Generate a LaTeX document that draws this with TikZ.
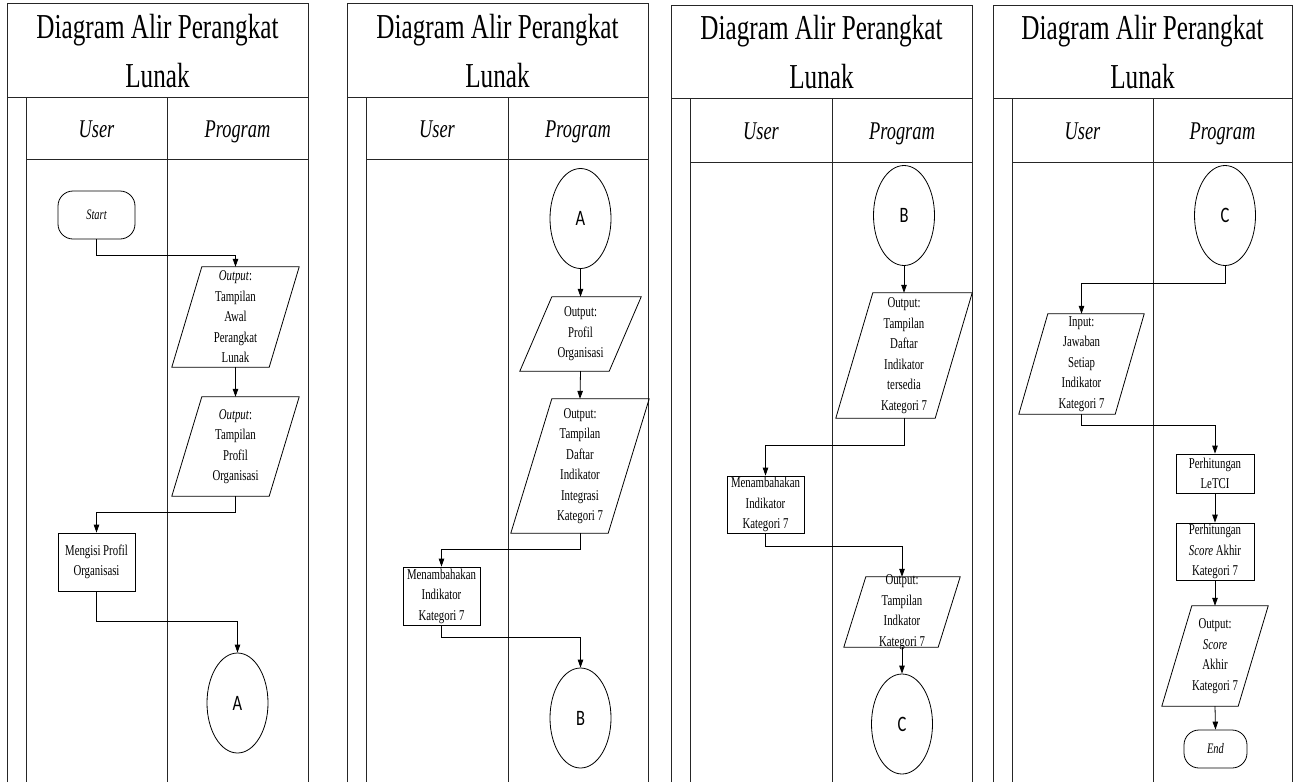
\documentclass[tikz,border=0pt]{standalone}
\usepackage{fontspec}
\setmainfont[FakeStretch=0.72]{Liberation Serif}
\newfontfamily\connfont[FakeStretch=0.75]{Carlito}
\usetikzlibrary{shapes.geometric,arrows.meta}

\tikzset{
  frame/.style={line width=1pt, black!85},
  ttl/.style={font=\fontsize{35}{49}\selectfont, align=center, inner sep=0pt},
  lane/.style={font=\fontsize{25.5}{30}\selectfont\itshape, inner sep=0pt, anchor=base},
  txt/.style={font=\fontsize{15}{20.5}\selectfont, align=center, inner sep=0pt},
  term/.style={draw, line width=0.8pt, rounded corners=15pt, inner sep=0pt, font=\fontsize{14.5}{18}\selectfont\itshape},
  proc/.style={txt, draw, line width=0.8pt, minimum width=77pt},
  io/.style={inner sep=0pt},
  conn/.style={draw, ellipse, line width=0.8pt, inner sep=0pt, minimum width=61pt, minimum height=100pt, font=\connfont\fontsize{22}{26}\selectfont},
  flow/.style={line width=0.8pt, -{Triangle[length=8pt,width=5.5pt]}}
}
\newcommand{\ioshape}[2]{\draw[line width=0.8pt] ([xshift=#2pt]#1.north west) -- (#1.north east) -- ([xshift=-#2pt]#1.south east) -- (#1.south west) -- cycle;}

\begin{document}
\begin{tikzpicture}[x=1pt,y=-1pt]
\useasboundingbox (0,0) rectangle (1298,782);

% panel 1
\draw[frame] (7,782) -- (7,3) -- (308,3) -- (308,782);
\draw[frame] (7,97) -- (308,97);
\draw[frame] (26,97) -- (26,782);
\draw[frame] (26,159) -- (308,159);
\draw[frame] (167,97) -- (167,782);
\node[ttl] (t1) at (157.5,51) {Diagram Alir Perangkat\\Lunak};
\node[lane] (u1) at (96.5,137) {User};
\node[lane] (g1) at (237.5,137) {Program};

\node[term, minimum width=77pt, minimum height=48pt] (s1) at (96.5,215) {Start};
\node[io, minimum width=127pt, minimum height=100pt,
  label={[txt]center:{\textit{Output}:\\Tampilan\\Awal\\Perangkat\\Lunak}}] (o1) at (235.5,317) {};
\ioshape{o1}{30}
\node[io, minimum width=127pt, minimum height=99pt,
  label={[txt]center:{\textit{Output}:\\Tampilan\\Profil\\Organisasi}}] (o2) at (235.5,446.5) {};
\ioshape{o2}{30}
\node[proc, minimum height=58pt] (p1) at (96.5,562) {Mengisi Profil\\Organisasi};
\node[conn] (c1) at (237.5,703) {A};

\draw[flow] (s1.south) -- ++(0,16) -| (o1.north);
\draw[flow] (o1.south) -- (o2.north);
\draw[flow] (o2.south) -- ++(0,16) -| (p1.north);
\draw[flow] (p1.south) -- ++(0,30) -| (c1.north);

% panel 2
\draw[frame] (347,782) -- (347,3) -- (648,3) -- (648,782);
\draw[frame] (347,97) -- (648,97);
\draw[frame] (366,97) -- (366,782);
\draw[frame] (366,159) -- (648,159);
\draw[frame] (508,97) -- (508,782);
\node[ttl] (t2) at (497.5,51) {Diagram Alir Perangkat\\Lunak};
\node[lane] (u2) at (437,137) {User};
\node[lane] (g2) at (578,137) {Program};

\node[conn] (c2) at (580.5,218.5) {A};
\node[io, minimum width=121pt, minimum height=74pt,
  label={[txt]center:{Output:\\Profil\\Organisasi}}] (o3) at (580.5,334) {};
\ioshape{o3}{32}
\node[io, minimum width=138pt, minimum height=134pt,
  label={[txt]center:{Output:\\Tampilan\\Daftar\\Indikator\\Integrasi\\Kategori 7}}] (o4) at (580,466) {};
\ioshape{o4}{41}
\node[proc, minimum height=58pt] (p2) at (441.5,596) {Menambahakan\\Indikator\\Kategori 7};
\node[conn] (c3) at (580.5,718) {B};

\draw[flow] (c2.south) -- (o3.north);
\draw[flow] (o3.south) -- (o4.north);
\draw[flow] (o4.south) -- ++(0,16) -| (p2.north);
\draw[flow] (p2.south) -- ++(0,12) -| (c3.north);

% panel 3
\draw[frame] (671,782) -- (671,5) -- (972,5) -- (972,782);
\draw[frame] (671,98) -- (972,98);
\draw[frame] (690,98) -- (690,782);
\draw[frame] (690,162) -- (972,162);
\draw[frame] (832,98) -- (832,782);
\node[ttl] (t3) at (821.5,52) {Diagram Alir Perangkat\\Lunak};
\node[lane] (u3) at (761,139) {User};
\node[lane] (g3) at (902,139) {Program};

\node[conn] (c4) at (904,215.5) {B};
\node[io, minimum width=136pt, minimum height=125pt,
  label={[txt]center:{Output:\\Tampilan\\Daftar\\Indikator\\tersedia\\Kategori 7}}] (o5) at (904,355.5) {};
\ioshape{o5}{37}
\node[proc, minimum height=57pt] (p3) at (765.5,504.5) {Menambahakan\\Indikator\\Kategori 7};
\node[io, minimum width=116pt, minimum height=70pt,
  label={[txt]center:{Output:\\Tampilan\\Indkator\\Kategori 7}}] (o6) at (902,612) {};
\ioshape{o6}{22}
\node[conn] (c5) at (902,724) {C};

\draw[flow] (c4.south) -- (o5.north);
\draw[flow] (o5.south) -- ++(0,27) -| (p3.north);
\draw[flow] (p3.south) -- ++(0,13) -| (o6.north);
\draw[flow] (o6.south) -- (c5.north);

% panel 4
\draw[frame] (993,782) -- (993,5) -- (1292,5) -- (1292,782);
\draw[frame] (993,98) -- (1292,98);
\draw[frame] (1012,98) -- (1012,782);
\draw[frame] (1012,162) -- (1292,162);
\draw[frame] (1153,98) -- (1153,782);
\node[ttl] (t4) at (1142.5,52) {Diagram Alir Perangkat\\Lunak};
\node[lane] (u4) at (1082.5,139) {User};
\node[lane] (g4) at (1222.5,139) {Program};

\node[conn] (c6) at (1225,215.5) {C};
\node[io, minimum width=125pt, minimum height=100pt,
  label={[txt]center:{Input:\\Jawaban\\Setiap\\Indikator\\Kategori 7}}] (o7) at (1081.5,364) {};
\ioshape{o7}{29}
\node[proc, minimum width=78pt, minimum height=39pt] (p4) at (1215,473.5) {Perhitungan\\LeTCI};
\node[proc, minimum width=78pt, minimum height=57pt] (p5) at (1215,551.5) {Perhitungan\\\textit{Score} Akhir\\Kategori 7};
\node[io, minimum width=106pt, minimum height=100pt,
  label={[txt]center:{Output:\\\textit{Score}\\Akhir\\Kategori 7}}] (o8) at (1215,656) {};
\ioshape{o8}{30}
\node[term, minimum width=63pt, minimum height=38pt] (e1) at (1215.5,749) {End};

\draw[flow] (c6.south) -- ++(0,17) -| (o7.north);
\draw[flow] (o7.south) -- ++(0,11) -| (p4.north);
\draw[flow] (p4.south) -- (p5.north);
\draw[flow] (p5.south) -- (o8.north);
\draw[flow] (o8.south) -- (e1.north);
\end{tikzpicture}
\end{document}
